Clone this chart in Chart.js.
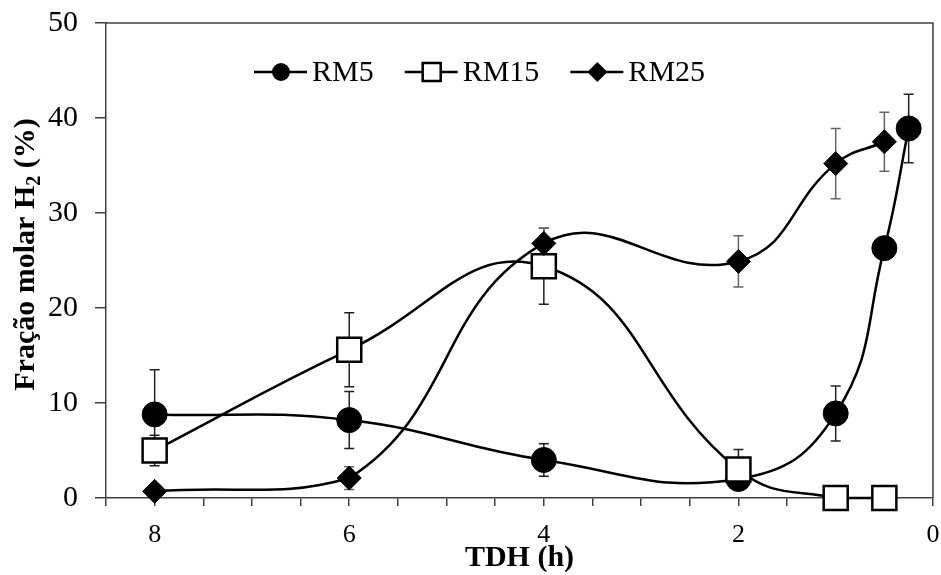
<!DOCTYPE html>
<html>
<head>
<meta charset="utf-8">
<script src="https://cdn.jsdelivr.net/npm/chart.js@4/dist/chart.umd.min.js"></script>
<style>
  body { margin: 0; background: #fff; }
  canvas { display: block; }
</style>
</head>
<body>
<canvas id="myChart" width="941" height="575"></canvas>
<script>
// TDH (h) for each sample
let tdh = [8, 6, 4, 2, 1, 0.5, 0.25];

// H2 molar fraction (%) and error bars
let rm5 = [8.8, 8.2, 4.0, 2.0, 8.9, 26.3, 38.9];
let rm5Err = [4.7, 3.0, 1.7, 0.5, 2.9, 0, 3.6];
let rm15 = [5.0, 15.6, 24.4, 3.0, 0, 0];
let rm15Err = [1.6, 3.9, 4.0, 2.1, 0, 0];
let rm25 = [0.7, 2.1, 26.8, 24.9, 35.2, 37.5];
let rm25Err = [0, 1.2, 1.6, 2.7, 3.7, 3.1];

let xTicks = [8, 6, 4, 2, 0];

let serif = "'Liberation Serif', 'Times New Roman', serif";
let axisColor = "#404040";

function pts(ys) {
  return ys.map(function (y, i) { return { x: tdh[i], y: y }; });
}

// error bars under the markers
let errorBars = {
  id: "errorBars",
  beforeDatasetsDraw(chart) {
    let ctx = chart.ctx;
    let yScale = chart.scales.y;
    chart.data.datasets.forEach(function (ds, di) {
      let meta = chart.getDatasetMeta(di);
      ctx.save();
      ctx.strokeStyle = ds.errColor;
      ctx.lineWidth = 1.5;
      meta.data.forEach(function (p, i) {
        let e = ds.err[i];
        if (!e) return;
        let v = ds.data[i].y;
        let top = yScale.getPixelForValue(v + e);
        let bot = yScale.getPixelForValue(v - e);
        ctx.beginPath();
        ctx.moveTo(p.x, top); ctx.lineTo(p.x, bot);
        ctx.moveTo(p.x - 5, top); ctx.lineTo(p.x + 5, top);
        ctx.moveTo(p.x - 5, bot); ctx.lineTo(p.x + 5, bot);
        ctx.stroke();
      });
      ctx.restore();
    });
  },
};

// frame, legend and y title
let extras = {
  id: "extras",
  afterDraw(chart) {
    let ctx = chart.ctx;
    let a = chart.chartArea;
    ctx.save();
    ctx.strokeStyle = axisColor;
    ctx.lineWidth = 1.5;
    ctx.beginPath();
    ctx.moveTo(a.left, a.top); ctx.lineTo(a.right, a.top); ctx.lineTo(a.right, a.bottom);
    ctx.stroke();

    // legend: line - marker - line, then label
    ctx.font = "30px " + serif;
    ctx.textBaseline = "middle";
    ctx.fillStyle = "#000";
    let x = 254, y = 72;
    chart.data.datasets.forEach(function (ds) {
      ctx.strokeStyle = "#000";
      ctx.lineWidth = 2.5;
      ctx.beginPath(); ctx.moveTo(x, y); ctx.lineTo(x + 53, y); ctx.stroke();
      let cx = x + 27;
      ctx.beginPath();
      if (ds.pointStyle === "circle") {
        ctx.arc(cx, y, 9, 0, Math.PI * 2);
        ctx.fillStyle = "#000"; ctx.fill();
      } else if (ds.pointStyle === "rect") {
        ctx.rect(cx - 9, y - 9, 18, 18);
        ctx.fillStyle = "#fff"; ctx.fill();
        ctx.lineWidth = 2.5; ctx.stroke();
      } else {
        ctx.moveTo(cx, y - 10); ctx.lineTo(cx + 10, y); ctx.lineTo(cx, y + 10); ctx.lineTo(cx - 10, y);
        ctx.closePath();
        ctx.fillStyle = "#000"; ctx.fill();
      }
      ctx.fillStyle = "#000";
      ctx.fillText(ds.label, x + 58, y + 1);
      x = x + 58 + ctx.measureText(ds.label).width + 31;
    });

    // y title with subscript
    let parts = [["Fração molar H", "bold 30px " + serif, 0], ["2", "bold 20px " + serif, 6], [" (%)", "bold 30px " + serif, 0]];
    let total = 0;
    parts.forEach(function (p) { ctx.font = p[1]; total += ctx.measureText(p[0]).width; });
    ctx.translate(34, (a.top + a.bottom) / 2 - 6);
    ctx.rotate(-Math.PI / 2);
    ctx.textBaseline = "alphabetic";
    let tx = -total / 2;
    parts.forEach(function (p) {
      ctx.font = p[1];
      ctx.fillText(p[0], tx, p[2]);
      tx += ctx.measureText(p[0]).width;
    });
    ctx.restore();
  },
};

function series(label, ys, errs, style, radius, fill, bw, order, errColor) {
  return {
    label: label,
    data: pts(ys),
    err: errs,
    errColor: errColor,
    borderColor: "#000",
    borderWidth: 2.5,
    tension: 0.45,
    pointStyle: style,
    pointRadius: radius,
    pointBackgroundColor: fill,
    pointBorderColor: "#000",
    pointBorderWidth: bw,
    clip: false,
    order: order,
  };
}

let myChart = new Chart(document.getElementById("myChart"), {
  type: "line",
  data: {
    datasets: [
      series("RM5", rm5, rm5Err, "circle", 12.5, "#000", 1, 3, "#222"),
      series("RM15", rm15, rm15Err, "rect", 17, "#fff", 2.5, 2, "#222"),
      series("RM25", rm25, rm25Err, "rectRot", 12, "#000", 1, 1, "#666"),
    ],
  },
  options: {
    responsive: false,
    animation: false,
    layout: { autoPadding: false, padding: { top: 23, left: 0, right: 0, bottom: 0 } },
    plugins: { legend: { display: false }, tooltip: { enabled: false } },
    scales: {
      x: {
        type: "linear",
        reverse: true,
        min: 0,
        max: 8.5,
        afterFit: function (scale) {
          scale.height = 77;
          scale.paddingLeft = 0;
          scale.paddingRight = 8;
        },
        ticks: {
          stepSize: 0.5,
          autoSkip: false,
          maxRotation: 0,
          padding: 14,
          color: "#000",
          font: { family: serif, size: 26 },
          callback: function (v) { return xTicks.indexOf(v) >= 0 ? String(v) : ""; },
        },
        grid: { drawOnChartArea: false, tickLength: 8, color: axisColor, lineWidth: 1.5 },
        border: { color: axisColor, width: 1.5 },
        title: {
          display: true,
          text: "TDH (h)",
          color: "#000",
          font: { family: serif, size: 30, weight: "bold", lineHeight: 1.1 },
          padding: { top: 0, bottom: 0 },
        },
      },
      y: {
        min: 0,
        max: 50,
        afterFit: function (scale) {
          scale.width = 106;
          scale.paddingTop = 0;
          scale.paddingBottom = 0;
        },
        ticks: {
          stepSize: 10,
          padding: 17,
          color: "#000",
          font: { family: serif, size: 30 },
        },
        grid: { drawOnChartArea: false, tickLength: 11, color: axisColor, lineWidth: 1.5 },
        border: { color: axisColor, width: 1.5 },
      },
    },
  },
  plugins: [errorBars, extras],
});
</script>
</body>
</html>
